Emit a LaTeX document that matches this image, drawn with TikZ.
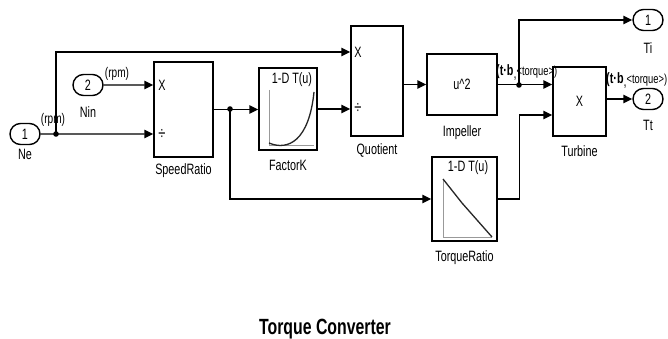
\documentclass[tikz,border=0pt]{standalone}
\usepackage{fontspec}
\setmainfont{Liberation Sans}[FakeStretch=0.72]
\usetikzlibrary{
    arrows.meta,
    positioning,
    shapes.misc,
    shadows
}

\begin{document}
\begin{tikzpicture}[
    x=1pt, y=-1pt,
    font=\fontsize{15}{16}\selectfont,
    block/.style={
        rectangle,
        draw=black,
        line width=1.4pt,
        fill=white,
        inner sep=0pt,
        drop shadow={shadow xshift=1.4pt, shadow yshift=-1.4pt, fill=black!50, opacity=0.6}
    },
    port/.style={
        rounded rectangle,
        draw=black,
        line width=1.4pt,
        fill=white,
        inner sep=0pt,
        minimum width=30pt,
        minimum height=21pt
    },
    sig/.style={
        -{Triangle[length=9pt,width=8.5pt]},
        line width=1.4pt
    },
    blocklabel/.style={
        inner sep=0pt
    },
    sign/.style={
        inner sep=0pt
    },
    plotaxis/.style={
        draw=black!40,
        line width=0.8pt
    },
    plotline/.style={
        draw=black!85,
        line width=1.3pt
    },
    unitlabel/.style={
        font=\fontsize{14}{15}\selectfont,
        inner sep=0pt
    }
]
\useasboundingbox (0,0) rectangle (668,339);

% =========================================================
% Inports and outports
% =========================================================
\node[port] (ne) at (25,134) {1};
\node[port] (nin) at (88,85) {2};
\node[port] (ti) at (648,20) {1};
\node[port] (tt) at (648,99) {2};

% =========================================================
% Blocks
% =========================================================
\node[block, minimum width=59pt, minimum height=95pt] (speed) at (183.5,109.5) {};
\node[block, minimum width=58pt, minimum height=82pt] (factk) at (288,109) {};
\node[block, minimum width=52pt, minimum height=110pt] (quot) at (377,81) {};
\node[block, minimum width=70pt, minimum height=61pt] (imp) at (462,84.5) {u\textasciicircum 2};
\node[block, minimum width=53pt, minimum height=69pt] (turb) at (579.5,101.5) {X};
\node[block, minimum width=65pt, minimum height=84pt] (tqr) at (464.5,199) {};

% signs of the product blocks
\node[sign] (smul) at (162,85) {X};
\node[sign, font=\fontsize{18}{18}\selectfont] (sdiv) at (162,134) {÷};
\node[sign] (qmul) at (358,52) {X};
\node[sign, font=\fontsize{18}{18}\selectfont] (qdiv) at (358,108) {÷};

% lookup tables
\node[sign] (fkhead) at (292,80) {1-D T(u)};
\draw[plotaxis] (269,90) -- (269,145) -- (314,145);
\draw[plotline] (269,143) .. controls (288,151) and (309,141) .. (314,92);

\node[sign] (tqhead) at (468,168) {1-D T(u)};
\draw[plotaxis] (443,179) -- (443,237) -- (492,237);
\draw[plotline] (443,179) -- (462,203) -- (492,237);

% =========================================================
% Block names
% =========================================================
\node[blocklabel, below=4pt of ne] (nelbl) {Ne};
\node[blocklabel, below=10pt of nin] (ninlbl) {Nin};
\node[blocklabel, below=6pt of speed] (speedlbl) {SpeedRatio};
\node[blocklabel, below=9pt of factk] (factklbl) {FactorK};
\node[blocklabel, below=7pt of quot] (quotlbl) {Quotient};
\node[blocklabel, below=10pt of imp] (implbl) {Impeller};
\node[blocklabel, below=9pt of turb] (turblbl) {Turbine};
\node[blocklabel, below=9pt of tqr] (tqrlbl) {TorqueRatio};
\node[blocklabel, below=11pt of ti] (tilbl) {Ti};
\node[blocklabel, below=10pt of tt] (ttlbl) {Tt};

% =========================================================
% Signals
% =========================================================
\coordinate (nebr) at (56,134);
\coordinate (spbr) at (230,109);
\coordinate (impbr) at (519,85);
\coordinate (tbin) at (turb.west |- 0,115);

\draw[sig] (ne) -- (ne -| speed.west);
\draw[sig] (nin) -- (nin -| speed.west);
\draw[sig] (nebr) |- (qmul -| quot.west);
\draw[sig] (speed.east) -- (speed.east -| factk.west);
\draw[sig] (factk) -- (factk -| quot.west);
\draw[sig] (spbr) |- (tqr);
\draw[sig] (imp -| quot.east) -- (imp);
\draw[sig] (imp) -- (imp -| turb.west);
\draw[sig] (impbr) |- (ti);
\draw[sig] (tqr.east) -- ++(22,0) |- (tbin);
\draw[sig] (tt -| turb.east) -- (tt);

\fill (nebr) circle (2.8pt);
\fill (spbr) circle (2.8pt);
\fill (impbr) circle (2.8pt);

% signal names
\node[unitlabel] (nerpm) at (53,120) {(rpm)};
\node[unitlabel] (ninrpm) at (117,74) {(rpm)};
\node[anchor=south west, inner sep=0pt] (impsig) at (496,81)
{\textbf{(t·b}\raisebox{-3pt}{,}{\fontsize{13}{14}\selectfont<torque>)}};
\node[anchor=south west, inner sep=0pt] (turbsig) at (606,89)
{\textbf{(t·b}\raisebox{-3pt}{,}{\fontsize{13}{14}\selectfont<torque>)}};

% =========================================================
% Title
% =========================================================
\node[font=\fontsize{22}{24}\selectfont\bfseries] (title) at (325,329) {Torque Converter};

\end{tikzpicture}
\end{document}
